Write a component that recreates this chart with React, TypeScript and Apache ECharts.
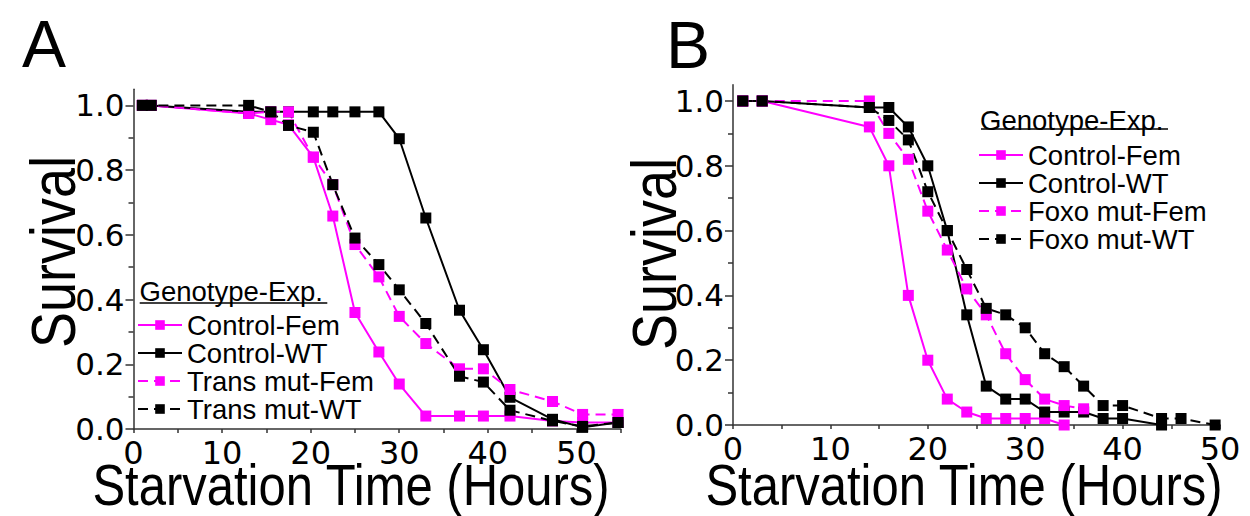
import React, { useEffect, useRef } from 'react';
import * as echarts from 'echarts';

// Panel A: starvation time (hours) and survival fractions
const hoursA = [1, 2, 13, 15.5, 17.5, 20.3, 22.5, 25, 27.7, 30, 33, 36.8, 39.5, 42.5, 47.3, 50.7, 54.7];
const controlFemA = [1, 1, 0.975, 0.956, 0.94, 0.84, 0.658, 0.36, 0.238, 0.139, 0.04, 0.04, 0.04, 0.04, 0.025, 0.02, 0.02];
const controlWtA = [1, 1, 0.98, 0.98, 0.98, 0.98, 0.98, 0.98, 0.98, 0.897, 0.652, 0.367, 0.245, 0.098, 0.03, 0.005, 0.02];
const transFemA = [1, 1, 0.975, 0.98, 0.98, 0.84, 0.755, 0.57, 0.47, 0.348, 0.264, 0.186, 0.186, 0.122, 0.085, 0.045, 0.045];
const transWtA = [1, 1, 1, 0.98, 0.938, 0.917, 0.755, 0.59, 0.508, 0.43, 0.326, 0.163, 0.145, 0.058, 0.025, 0.008, 0.02];

// Panel B
const hoursB = [1, 3, 14, 16, 18, 20, 22, 24, 26, 28, 30, 32, 34, 36, 38, 40, 44, 46, 49.5];
const controlFemB = [1, 1, 0.92, 0.8, 0.4, 0.2, 0.08, 0.04, 0.02, 0.02, 0.02, 0.02, 0.0, null, null, null, null, null, null];
const controlWtB = [1, 1, 0.98, 0.98, 0.92, 0.8, 0.6, 0.34, 0.12, 0.08, 0.08, 0.04, 0.04, 0.04, 0.02, 0.02, 0.0, null, null];
const foxoFemB = [1, 1, 1, 0.9, 0.82, 0.66, 0.54, 0.42, 0.34, 0.22, 0.14, 0.08, 0.06, 0.05, null, null, null, null, null];
const foxoWtB = [1, 1, 0.98, 0.94, 0.88, 0.72, 0.6, 0.48, 0.36, 0.34, 0.3, 0.22, 0.18, 0.12, 0.06, 0.06, 0.02, 0.02, 0.0];

const namesA = ['Control-Fem', 'Control-WT', 'Trans mut-Fem', 'Trans mut-WT'];
const namesB = ['Control-Fem', 'Control-WT', 'Foxo mut-Fem', 'Foxo mut-WT'];
const yMajor = [0, 0.2, 0.4, 0.6, 0.8, 1.0];
const yMinor = [0.1, 0.3, 0.5, 0.7, 0.9];
const xTitle = 'Starvation Time (Hours)';
const yTitle = 'Survival';
const legendTitle = 'Genotype-Exp.';

const FONT = '"Liberation Sans", Arial, Helvetica, sans-serif';
const TICK_FONT = '"DejaVu Sans", "Liberation Sans", sans-serif';
const MAGENTA = '#ff00ff';
const BLACK = '#000000';
const AXIS = '#333333';

function pairs(xs: number[], ys: (number | null)[]) {
  const out: number[][] = [];
  xs.forEach((x, i) => {
    const y = ys[i];
    if (y !== null && y !== undefined) out.push([x, y]);
  });
  return out;
}

export default function App() {
  const ref = useRef<HTMLDivElement>(null);
  useEffect(() => {
    if (!ref.current) return;
    const chart = echarts.init(ref.current, null, { renderer: 'svg' });

    const mk = (name: string, color: string, dashed: boolean, xi: number, yi: number, data: number[][]) => ({
      name,
      type: 'line',
      xAxisIndex: xi,
      yAxisIndex: yi,
      data,
      symbol: 'rect',
      symbolSize: 11,
      showSymbol: true,
      lineStyle: { color, width: 2, type: dashed ? [10, 6] : 'solid' },
      itemStyle: { color },
      emphasis: { disabled: true },
    });

    const xAx = (gridIndex: number, max: number) => ({
      gridIndex,
      type: 'value',
      min: 0,
      max,
      interval: 5,
      axisLine: { show: true, lineStyle: { color: AXIS, width: 1.5 } },
      axisTick: { show: true, length: 4, lineStyle: { color: AXIS, width: 1.5 } },
      axisLabel: {
        formatter: (v: number) => (Math.round(v) % 10 === 0 ? String(Math.round(v)) : ''),
        fontSize: 32,
        color: '#000',
        fontFamily: TICK_FONT,
        margin: 8,
      },
      splitLine: { show: false },
    });

    const yMain = (gridIndex: number) => ({
      gridIndex,
      type: 'value',
      position: 'left',
      min: 0,
      max: 1.05,
      axisLine: { show: true, lineStyle: { color: AXIS, width: 1.5 } },
      axisTick: { show: true, length: 8, customValues: yMajor, lineStyle: { color: AXIS, width: 1.5 } },
      axisLabel: {
        customValues: yMajor,
        formatter: (v: number) => v.toFixed(1),
        fontSize: 31,
        color: '#000',
        fontFamily: TICK_FONT,
        margin: 9,
      },
      splitLine: { show: false },
    });

    const yMinorAx = (gridIndex: number) => ({
      gridIndex,
      type: 'value',
      position: 'left',
      offset: 0,
      min: 0,
      max: 1.05,
      axisLine: { show: true, lineStyle: { color: 'rgba(0,0,0,0)', width: 1 } },
      axisTick: { show: true, length: 5, customValues: yMinor, lineStyle: { color: AXIS, width: 1.5 } },
      axisLabel: { show: false },
      splitLine: { show: false },
    });

    const legendCommon = {
      orient: 'vertical',
      padding: 0,
      itemWidth: 44,
      itemHeight: 12,
      itemGap: 0,
      selectedMode: false,
      textStyle: { fontSize: 27.5, lineHeight: 27.6, fontFamily: FONT, color: '#000' },
    };

    const title = (text: string, x: number, y: number, size: number, rotation = 0, scaleY = 1) => ({
      type: 'text',
      x,
      y,
      rotation,
      scaleY,
      style: {
        text,
        fontSize: size,
        fontFamily: FONT,
        fill: '#000',
        align: 'center',
        verticalAlign: 'middle',
      },
    });

    chart.setOption({
      animation: false,
      tooltip: { show: false },
      grid: [
        { left: 125.5, top: 81.2, width: 487.2, height: 339.8 },
        { left: 725, top: 76.8, width: 487, height: 340.2 },
      ],
      xAxis: [xAx(0, 55), xAx(1, 50)],
      yAxis: [yMain(0), yMinorAx(0), yMain(1), yMinorAx(1)],
      legend: [
        { ...legendCommon, data: namesA, left: 129, top: 303 },
        { ...legendCommon, data: namesB, left: 970, top: 133 },
      ],
      graphic: [
        title('A', 36, 36, 66),
        title('B', 680, 37, 66),
        title(xTitle, 343, 477, 49, 0, 1.17),
        title(xTitle, 956, 477, 49, 0, 1.17),
        title(yTitle, 45, 244, 54, Math.PI / 2, 1.17),
        title(yTitle, 646, 246, 54, Math.PI / 2, 1.17),
        {
          type: 'text',
          x: 131.5,
          y: 283,
          style: { text: legendTitle, fontSize: 27.5, fontFamily: FONT, fill: '#000', align: 'left', verticalAlign: 'middle' },
        },
        { type: 'line', shape: { x1: 131.7, y1: 295, x2: 319.3, y2: 295 }, style: { stroke: '#000', lineWidth: 1.5 } },
        {
          type: 'text',
          x: 972,
          y: 112.7,
          style: { text: legendTitle, fontSize: 27.5, fontFamily: FONT, fill: '#000', align: 'left', verticalAlign: 'middle' },
        },
        { type: 'line', shape: { x1: 973, y1: 121, x2: 1160, y2: 121 }, style: { stroke: '#000', lineWidth: 1.5 } },
      ],
      series: [
        mk(namesA[0], MAGENTA, false, 0, 0, pairs(hoursA, controlFemA)),
        mk(namesA[1], BLACK, false, 0, 0, pairs(hoursA, controlWtA)),
        mk(namesA[2], MAGENTA, true, 0, 0, pairs(hoursA, transFemA)),
        mk(namesA[3], BLACK, true, 0, 0, pairs(hoursA, transWtA)),
        mk(namesB[0], MAGENTA, false, 1, 2, pairs(hoursB, controlFemB)),
        mk(namesB[1], BLACK, false, 1, 2, pairs(hoursB, controlWtB)),
        mk(namesB[2], MAGENTA, true, 1, 2, pairs(hoursB, foxoFemB)),
        mk(namesB[3], BLACK, true, 1, 2, pairs(hoursB, foxoWtB)),
      ],
    });

    return () => chart.dispose();
  }, []);

  return <div ref={ref} style={{ position: 'fixed', left: 0, top: 0, width: 1250, height: 516 }} />;
}
